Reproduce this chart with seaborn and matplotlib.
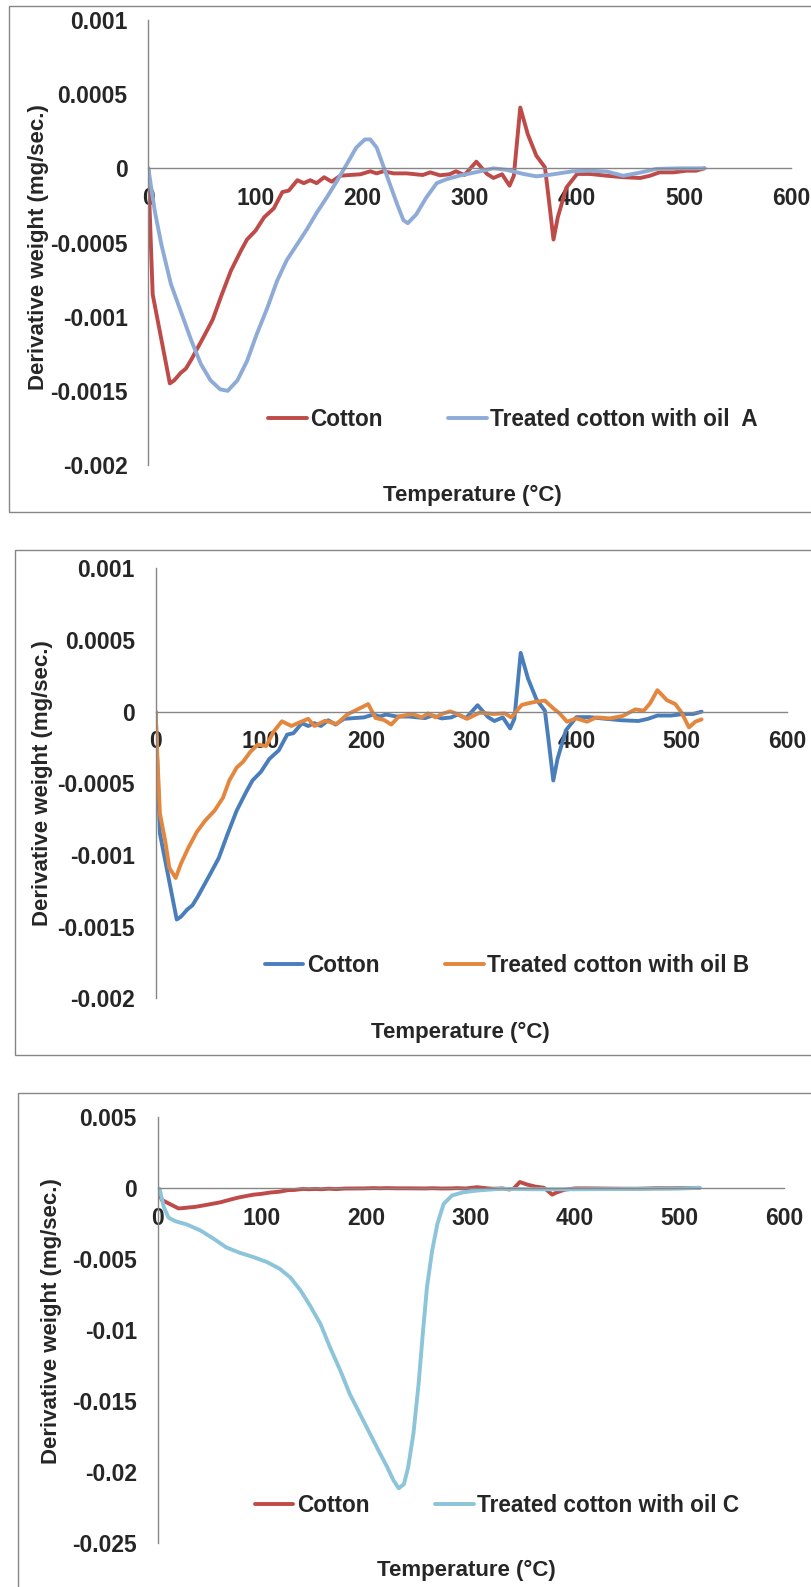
import numpy as np
import pandas as pd
import seaborn as sns
import matplotlib.pyplot as plt
from matplotlib.patches import Rectangle

# derivative weight curves (panels A/B in 1e-4, C in 1e-3 mg/sec)
cotton_temp = [0, 1, 4, 12, 20, 24, 30, 35, 40, 46,
               52, 60, 68, 77, 86, 92, 100, 108, 117, 125,
               131, 139, 145, 151, 157, 164, 171, 179, 188, 198,
               207, 213, 219, 229, 241, 256, 263, 272, 281, 287,
               295, 306, 316, 322, 330, 337, 341, 347, 354, 362,
               370, 373, 378, 382, 390, 400, 412, 428, 443, 459,
               468, 477, 490, 502, 511, 519]
cotton_dw = [0, -2.5, -8.5, -11.5, -14.5, -14.3, -13.8, -13.5, -12.9, -12.1,
             -11.3, -10.2, -8.6, -6.9, -5.6, -4.8, -4.2, -3.3, -2.7, -1.6,
             -1.5, -0.8, -1.0, -0.8, -1.0, -0.6, -0.9, -0.5, -0.45, -0.4,
             -0.2, -0.34, -0.2, -0.34, -0.34, -0.45, -0.27, -0.47, -0.4, -0.2,
             -0.45, 0.45, -0.38, -0.65, -0.4, -1.17, -0.5, 4.1, 2.3, 0.85,
             0.07, -1.7, -4.8, -3.3, -1.3, -0.38, -0.38, -0.5, -0.6, -0.65,
             -0.5, -0.27, -0.27, -0.16, -0.16, 0]

oil_a_temp = [0, 2, 6, 12, 21, 30, 40, 49, 58, 67,
              74, 83, 92, 101, 111, 120, 129, 139, 148, 157,
              167, 176, 185, 194, 202, 207, 213, 222, 232, 238,
              242, 250, 259, 269, 278, 290, 303, 312, 322, 334,
              350, 362, 375, 396, 412, 428, 443, 458, 474, 496, 519]
oil_a_dw = [0, -1.0, -2.9, -5.1, -7.8, -9.6, -11.6, -13.2, -14.3, -14.9,
            -15.0, -14.3, -13.0, -11.2, -9.4, -7.6, -6.2, -5.1, -4.1, -3.0,
            -1.9, -0.85, 0.27, 1.4, 1.95, 1.95, 1.4, -0.4, -2.4, -3.5,
            -3.7, -3.1, -2.0, -1.0, -0.74, -0.5, -0.3, -0.16, 0, -0.1,
            -0.38, -0.54, -0.43, -0.2, -0.16, -0.22, -0.5, -0.3, -0.04, 0, 0]

oil_b_temp = [0, 1.5, 4, 9, 13, 19, 24, 31, 39, 47,
              56, 64, 70, 77, 83, 90, 97, 105, 112, 120,
              129, 137, 145, 151, 161, 172, 182, 193, 202, 209,
              217, 224, 231, 244, 253, 259, 266, 272, 280, 288,
              296, 308, 321, 332, 338, 348, 354, 362, 370, 378,
              384, 391, 400, 410, 419, 432, 444, 456, 464, 470,
              477, 486, 494, 500, 507, 513, 519]
oil_b_dw = [0, -3.0, -7.1, -9.0, -10.9, -11.6, -10.6, -9.5, -8.4, -7.6,
            -6.9, -6.0, -4.8, -3.9, -3.5, -2.8, -2.3, -2.4, -1.4, -0.67,
            -1.0, -0.74, -0.5, -1.0, -0.63, -0.86, -0.2, 0.2, 0.53, -0.44,
            -0.58, -0.9, -0.35, -0.16, -0.4, -0.12, -0.4, -0.16, 0.02, -0.2,
            -0.5, -0.07, -0.16, -0.12, -0.4, 0.47, 0.58, 0.7, 0.77, 0.23,
            -0.12, -0.7, -0.47, -0.7, -0.4, -0.47, -0.3, 0.16, 0.07, 0.58,
            1.5, 0.8, 0.53, -0.07, -1.1, -0.7, -0.54]

oil_c_temp = [0, 2, 6, 10.5, 17, 28, 41, 54, 66, 79,
              92, 105, 117, 127, 137, 146, 156, 165, 175, 184,
              197, 210, 220, 226, 231, 236, 240, 245, 250, 254,
              258, 263, 268, 274, 282, 293, 306, 328, 360, 400,
              450, 500, 519]
oil_c_dw = [0, -0.1, -1.36, -2.1, -2.35, -2.58, -3.0, -3.6, -4.2, -4.58,
            -4.88, -5.23, -5.7, -6.3, -7.23, -8.29, -9.58, -11.2, -12.86, -14.5,
            -16.38, -18.26, -19.67, -20.6, -21.15, -20.85, -19.67, -17.32, -13.8, -10.28,
            -7.0, -4.41, -2.54, -1.13, -0.54, -0.31, -0.19, -0.07, -0.1, -0.1,
            -0.08, -0.05, 0]

x_ticks = [0, 100, 200, 300, 400, 500, 600]
yticks_ab = [0.001, 0.0005, 0, -0.0005, -0.001, -0.0015, -0.002]
ylabels_ab = ['0.001', '0.0005', '0', '-0.0005', '-0.001', '-0.0015', '-0.002']
yticks_c = [0.005, 0, -0.005, -0.01, -0.015, -0.02, -0.025]
ylabels_c = ['0.005', '0', '-0.005', '-0.01', '-0.015', '-0.02', '-0.025']

sns.set_style('white')
plt.rcParams['font.family'] = ['Liberation Sans', 'DejaVu Sans']
plt.rcParams['font.weight'] = 'bold'

W, H = 811, 1587
fig = plt.figure(figsize=(W / 100, H / 100), dpi=100)
GRAY = '#868686'

cotton = np.array(cotton_dw)
panels = [
    dict(box=(9, 6, 812, 512), ax=(148.4, 20, 791.4, 465), yt=yticks_ab, yl=ylabels_ab,
         series=[('Cotton', cotton_temp, cotton * 1e-4, '#BE4B48'),
                 ('Treated cotton with oil  A', oil_a_temp, np.array(oil_a_dw) * 1e-4, '#8EABD8')],
         leg=(513, 419), xlab=(472, 495), ylab=(39, 247)),
    dict(box=(14.5, 550, 812, 1055), ax=(155.7, 568.3, 786.8, 998.4), yt=yticks_ab, yl=ylabels_ab,
         series=[('Cotton', cotton_temp, cotton * 1e-4, '#4A7EBB'),
                 ('Treated cotton with oil B', oil_b_temp, np.array(oil_b_dw) * 1e-4, '#E3873F')],
         leg=(507, 965.6), xlab=(460.5, 1032), ylab=(43, 783)),
    dict(box=(18, 1093, 812, 1600), ax=(157.6, 1116.8, 784, 1543), yt=yticks_c, yl=ylabels_c,
         series=[('Cotton', cotton_temp, cotton * 1e-4, '#BE4B48'),
                 ('Treated cotton with oil C', oil_c_temp, np.array(oil_c_dw) * 1e-3, '#8CC4D9')],
         leg=(497, 1505), xlab=(466, 1570.5), ylab=(51.7, 1321)),
]

for p in panels:
    x0, y0, x1, y1 = p['box']
    fig.add_artist(Rectangle((x0 / W, 1 - y1 / H), (x1 - x0) / W, (y1 - y0) / H,
                             transform=fig.transFigure, fill=False, ec=GRAY, lw=1, clip_on=False))
    l, t, r, b = p['ax']
    ax = fig.add_axes([l / W, 1 - b / H, (r - l) / W, (b - t) / H])
    ax.patch.set_alpha(0)

    for name, xs, ys, col in p['series']:
        df = pd.DataFrame({'Temperature': xs, 'DW': ys})
        sns.lineplot(data=df, x='Temperature', y='DW', ax=ax, color=col, lw=2.8,
                     label=name, estimator=None, sort=False,
                     solid_joinstyle='round', solid_capstyle='round')

    ax.set_xlim(0, 600)
    ax.set_ylim(p['yt'][-1], p['yt'][0])
    ax.set_xticks(x_ticks)
    ax.set_xticklabels([str(v) for v in x_ticks])
    ax.set_yticks(p['yt'])
    ax.set_yticklabels(p['yl'])
    ax.set_xlabel('')
    ax.set_ylabel('')
    for s in ['top', 'right']:
        ax.spines[s].set_visible(False)
    ax.spines['bottom'].set_position(('data', 0))
    for s in ['bottom', 'left']:
        ax.spines[s].set_color(GRAY)
        ax.spines[s].set_linewidth(1)
    ax.tick_params(axis='x', direction='out', length=5, width=1, color=GRAY, pad=8.5, labelsize=16.5)
    ax.tick_params(axis='y', length=0, pad=15, labelsize=16.5)

    handles, labels = ax.get_legend_handles_labels()
    lx, ly = p['leg']
    ax.legend(handles, labels, ncol=2, loc='center', bbox_to_anchor=(lx / W, 1 - ly / H),
              bbox_transform=fig.transFigure, frameon=False, fontsize=16.3,
              handlelength=1.7, handletextpad=0.15, columnspacing=2.9, borderpad=0)

    tx, ty = p['xlab']
    fig.text(tx / W, 1 - ty / H, 'Temperature (°C)', ha='center', va='center',
             fontsize=16, fontweight='bold')
    yx, yy = p['ylab']
    fig.text(yx / W, 1 - yy / H, 'Derivative weight (mg/sec.)', ha='center', va='center',
             rotation=90, fontsize=16, fontweight='bold')

fig.savefig('out.png', dpi=100)
